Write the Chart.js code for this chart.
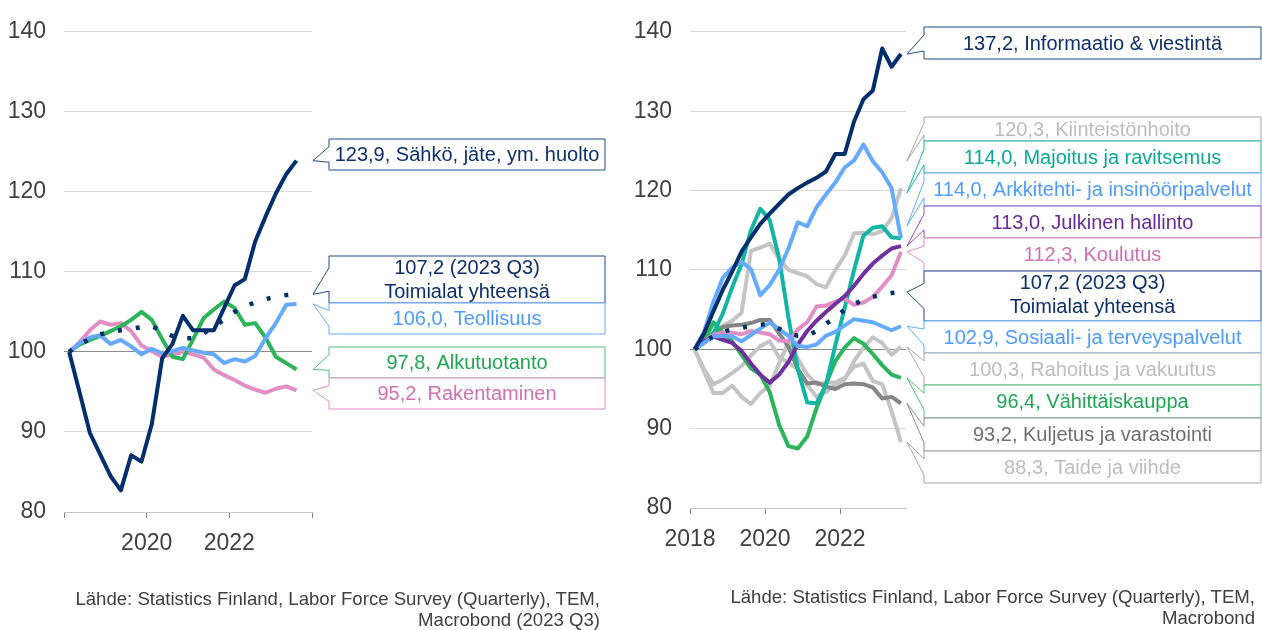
<!DOCTYPE html>
<html>
<head>
<meta charset="utf-8">
<script src="https://cdn.jsdelivr.net/npm/chart.js@4/dist/chart.umd.min.js"></script>
<style>
  html, body { margin: 0; padding: 0; background: #fff; }
  body { width: 1262px; height: 630px; position: relative; overflow: hidden; font-family: "Liberation Sans", Arial, sans-serif; }
  canvas { position: absolute; left: 0; top: 0; }
  .src { position: absolute; text-align: right; font-size: 18.6px; line-height: 21px; color: #404040; white-space: nowrap; }
</style>
</head>
<body>
<canvas id="vasen" width="1262" height="630"></canvas>
<canvas id="oikea" width="1262" height="630"></canvas>
<div class="src" style="right:662px; top:588px">Lähde: Statistics Finland, Labor Force Survey (Quarterly), TEM,<br>Macrobond (2023 Q3)</div>
<div class="src" style="right:7px; top:586px">Lähde: Statistics Finland, Labor Force Survey (Quarterly), TEM,<br>Macrobond</div>
<script>
// ==================== Data ====================
const quarters = [
  '2018Q1','2018Q2','2018Q3','2018Q4','2019Q1','2019Q2','2019Q3','2019Q4',
  '2020Q1','2020Q2','2020Q3','2020Q4','2021Q1','2021Q2','2021Q3','2021Q4',
  '2022Q1','2022Q2','2022Q3','2022Q4','2023Q1','2023Q2','2023Q3'
];
const yTicks = [80, 90, 100, 110, 120, 130, 140];
const xYears = [2018, 2020, 2022, 2024];

// vasen paneeli
const sahko        = [100, 95.0, 89.9, 87.2, 84.5, 82.7, 87.1, 86.3, 91.0, 99.2, 101.0, 104.5, 102.7, 102.7, 102.7, 105.5, 108.3, 109.1, 113.8, 116.9, 119.8, 122.2, 123.9];
const yhteensa     = [100, 101.0, 101.6, 102.2, 102.5, 102.7, 102.9, 103.1, 103.2, 102.6, 102.0, 101.7, 101.7, 102.3, 103.2, 104.0, 105.0, 105.7, 106.2, 106.6, 106.9, 107.1, 107.2];
const teollisuus   = [100, 101.1, 101.8, 102.1, 101.0, 101.5, 100.7, 99.7, 100.4, 99.8, 100.1, 100.5, 100.2, 99.9, 99.7, 98.6, 99.1, 98.8, 99.5, 101.7, 103.6, 105.9, 106.0];
const alkutuotanto = [100, 100.9, 101.5, 102.0, 102.6, 103.2, 104.0, 105.0, 104.0, 101.6, 99.4, 99.1, 101.6, 104.2, 105.3, 106.3, 105.5, 103.4, 103.6, 101.8, 99.4, 98.6, 97.8];
const rakentaminen = [100, 101.2, 102.7, 103.8, 103.4, 103.6, 102.6, 100.8, 100.1, 99.4, 99.7, 100.0, 99.7, 99.3, 97.8, 97.1, 96.5, 95.8, 95.3, 94.9, 95.4, 95.7, 95.2];

// oikea paneeli
const informaatio  = [100, 102.0, 104.8, 107.5, 109.8, 112.3, 114.1, 115.8, 117.1, 118.3, 119.5, 120.3, 121.0, 121.6, 122.4, 124.6, 124.6, 128.7, 131.5, 132.6, 137.9, 135.6, 137.2];
const kiinteisto   = [100, 101.0, 102.0, 103.0, 103.6, 104.6, 112.4, 112.8, 113.3, 111.4, 110.0, 109.6, 109.2, 108.2, 107.8, 110.0, 111.8, 114.6, 114.7, 114.5, 114.9, 116.5, 120.3];
const majoitus     = [100, 100.8, 102.0, 104.5, 107.8, 110.7, 115.0, 117.7, 116.3, 111.5, 104.0, 97.5, 93.3, 93.2, 95.5, 100.5, 105.2, 110.0, 114.3, 115.3, 115.5, 114.1, 114.0];
const arkkitehti   = [100, 102.2, 106.0, 109.0, 110.3, 111.0, 110.1, 106.8, 108.1, 110.0, 112.7, 116.0, 115.5, 117.9, 119.5, 121.0, 122.9, 123.8, 125.8, 123.7, 122.3, 120.3, 114.0];
const julkinen     = [100, 101.0, 101.6, 101.2, 100.8, 99.8, 98.2, 96.8, 95.8, 96.8, 98.4, 100.6, 102.3, 103.6, 104.7, 105.7, 106.7, 108.0, 109.5, 110.8, 111.8, 112.7, 113.0];
const koulutus     = [100, 101.0, 101.8, 102.1, 102.1, 101.9, 102.3, 102.1, 101.9, 101.1, 101.0, 102.5, 103.4, 105.4, 105.5, 106.0, 106.4, 105.6, 105.9, 106.6, 107.9, 109.3, 112.3];
const sosiaali     = [100, 100.8, 101.6, 101.7, 101.6, 101.0, 101.8, 102.6, 103.4, 102.5, 101.7, 100.4, 100.3, 100.6, 101.7, 102.2, 103.0, 103.8, 103.6, 103.4, 102.9, 102.4, 102.9];
const rahoitus     = [100, 97.5, 95.6, 96.2, 97.0, 97.9, 99.2, 100.4, 101.0, 99.0, 98.3, 97.5, 95.5, 94.0, 94.6, 95.6, 96.2, 98.5, 100.2, 101.5, 100.8, 99.3, 100.3];
const vahittais    = [100, 101.0, 103.4, 102.0, 101.0, 99.3, 97.6, 96.8, 94.6, 90.5, 87.8, 87.5, 89.0, 92.6, 95.6, 98.5, 100.2, 101.4, 100.7, 99.4, 98.0, 96.8, 96.4];
const kuljetus     = [100, 101.2, 102.0, 102.8, 103.0, 103.1, 103.3, 103.7, 103.7, 102.0, 100.3, 97.5, 95.7, 95.8, 95.3, 95.0, 95.6, 95.7, 95.6, 95.2, 93.8, 94.0, 93.2];
const taide        = [100, 97.2, 94.5, 94.5, 95.4, 94.0, 93.1, 94.5, 95.4, 98.2, 100.9, 98.8, 96.8, 95.6, 95.8, 95.8, 96.4, 97.8, 98.2, 96.0, 95.6, 92.2, 88.3];

// tekstit
const leftLabels = [
  '123,9, Sähkö, jäte, ym. huolto',
  ['107,2 (2023 Q3)', 'Toimialat yhteensä'],
  '106,0, Teollisuus',
  '97,8, Alkutuotanto',
  '95,2, Rakentaminen'
];
const rightLabels = [
  '137,2, Informaatio & viestintä',
  '120,3, Kiinteistönhoito',
  '114,0, Majoitus ja ravitsemus',
  '114,0, Arkkitehti- ja insinööripalvelut',
  '113,0, Julkinen hallinto',
  '112,3, Koulutus',
  ['107,2 (2023 Q3)', 'Toimialat yhteensä'],
  '102,9, Sosiaali- ja terveyspalvelut',
  '100,3, Rahoitus ja vakuutus',
  '96,4, Vähittäiskauppa',
  '93,2, Kuljetus ja varastointi',
  '88,3, Taide ja viihde'
];

// ==================== Värit ====================
const NAVY = '#002f6c', LBLUE = '#66aaff', GREEN = '#2bb45a', PINK = '#e08ec4',
      TEAL = '#12b5a3', PURPLE = '#7030a0', LGRAY = '#c4c4c4', DGRAY = '#858585';
const FONT = '"Liberation Sans", Arial, sans-serif';

const toX = q => +q.slice(0, 4) + (+q[5] - 0.5) / 4;
const pts = arr => arr.map((v, i) => ({ x: toX(quarters[i]), y: v }));

function line(data, color, extra) {
  return Object.assign({
    data: pts(data), borderColor: color, borderWidth: 4, pointRadius: 0,
    tension: 0, fill: false, borderJoinStyle: 'round', borderCapStyle: 'butt'
  }, extra || {});
}
function dotted(data) {
  return line(data, NAVY, { borderDash: [4, 14], borderWidth: 4.5 });
}

// ==================== Callout-laatikot ====================
const calloutPlugin = {
  id: 'callouts',
  afterDatasetsDraw(chart, args, opts) {
    if (!opts.items) return;
    const { ctx, chartArea, scales } = chart;
    const tipX = chartArea.right + 1;
    opts.items.forEach(it => {
      const top = it.top, h = it.h, bottom = top + h;
      let tipY = scales.y.getPixelForValue(it.value);
      tipY = Math.max(top - 20, Math.min(bottom + 20, tipY));
      const n1 = top + h * 0.25, n2 = top + h * 0.75;
      ctx.save();
      ctx.beginPath();
      ctx.moveTo(opts.x0, top);
      ctx.lineTo(opts.x1, top);
      ctx.lineTo(opts.x1, bottom);
      ctx.lineTo(opts.x0, bottom);
      ctx.lineTo(opts.x0, n2);
      ctx.lineTo(tipX, tipY);
      ctx.lineTo(opts.x0, n1);
      ctx.closePath();
      ctx.fillStyle = '#fff';
      ctx.fill();
      ctx.strokeStyle = it.border;
      ctx.lineWidth = 1;
      ctx.stroke();
      ctx.fillStyle = it.text;
      ctx.font = '20px ' + FONT;
      ctx.textAlign = 'center';
      ctx.textBaseline = 'middle';
      const cx = (opts.x0 + opts.x1) / 2;
      if (Array.isArray(it.label)) {
        ctx.fillText(it.label[0], cx, top + 12);
        ctx.fillText(it.label[1], cx, top + 36);
      } else {
        ctx.fillText(it.label, cx, top + h / 2 + 1);
      }
      ctx.restore();
    });
  }
};

// ==================== Yhteiset asetukset ====================
function options(cfg) {
  return {
    responsive: false,
    animation: false,
    events: [],
    layout: { padding: cfg.padding },
    plugins: { legend: { display: false }, tooltip: { enabled: false }, callouts: cfg.callouts },
    scales: {
      x: {
        type: 'linear', min: 2018, max: cfg.xMax,
        afterFit: s => { s.height = 40; },
        afterBuildTicks: s => { s.ticks = xYears.filter(v => v <= cfg.xMax).map(v => ({ value: v })); },
        grid: { drawOnChartArea: false, drawTicks: true, tickLength: 6, color: '#808080' },
        border: { display: true, color: '#c8c8c8', width: 1 },
        ticks: {
          color: '#404040', padding: 12, maxRotation: 0,
          font: { size: 23, family: FONT },
          callback: v => cfg.hideYears.includes(v) ? '' : String(v)
        }
      },
      y: {
        min: 80, max: 140,
        afterFit: s => { s.width = cfg.yWidth; },
        afterBuildTicks: s => { s.ticks = yTicks.map(v => ({ value: v })); },
        grid: { drawTicks: false, color: c => c.tick && c.tick.value === 100 ? '#8c8c8c' : '#d9d9d9' },
        border: { display: false },
        ticks: { color: '#404040', padding: 18, font: { size: 23, family: FONT } }
      }
    }
  };
}

// ==================== Vasen kaavio ====================
new Chart(document.getElementById('vasen'), {
  type: 'line',
  data: {
    datasets: [
      dotted(yhteensa),
      line(sahko, NAVY),
      line(teollisuus, LBLUE),
      line(alkutuotanto, GREEN),
      line(rakentaminen, PINK)
    ]
  },
  options: options({
    padding: { left: 0, top: 23, right: 950, bottom: 78 },
    yWidth: 64, xMax: 2024, hideYears: [2018, 2024],
    callouts: {
      x0: 329, x1: 605,
      items: [
        { label: leftLabels[0], value: sahko[22], top: 139, h: 31, border: '#1f4a8a', text: '#0d2f6b' },
        { label: leftLabels[1], value: yhteensa[22], top: 256, h: 47, border: '#1f4a8a', text: '#0d2f6b' },
        { label: leftLabels[2], value: teollisuus[22], top: 303, h: 31, border: LBLUE, text: '#4d9bff' },
        { label: leftLabels[3], value: alkutuotanto[22], top: 347, h: 31, border: '#4cbf74', text: '#1fa650' },
        { label: leftLabels[4], value: rakentaminen[22], top: 378, h: 31, border: PINK, text: '#d070b0' }
      ]
    }
  }),
  plugins: [calloutPlugin]
});

// ==================== Oikea kaavio ====================
new Chart(document.getElementById('oikea'), {
  type: 'line',
  data: {
    datasets: [
      dotted(yhteensa),
      line(informaatio, NAVY),
      line(arkkitehti, LBLUE),
      line(sosiaali, LBLUE),
      line(julkinen, PURPLE),
      line(koulutus, PINK),
      line(majoitus, TEAL),
      line(vahittais, GREEN),
      line(kuljetus, DGRAY),
      line(kiinteisto, LGRAY),
      line(rahoitus, LGRAY),
      line(taide, LGRAY)
    ]
  },
  options: options({
    padding: { left: 630, top: 20, right: 356, bottom: 82 },
    yWidth: 60, xMax: 2023.76, hideYears: [],
    callouts: {
      x0: 924, x1: 1261,
      items: [
        { label: rightLabels[0], value: informaatio[22], top: 27, h: 32, border: '#1f4a8a', text: '#0d2f6b' },
        { label: rightLabels[1], value: kiinteisto[22], top: 117, h: 24, border: '#a6a6a6', text: '#bdbdbd' },
        { label: rightLabels[2], value: majoitus[22], top: 141, h: 32, border: TEAL, text: '#0aa898' },
        { label: rightLabels[3], value: arkkitehti[22], top: 173, h: 33, border: LBLUE, text: '#4d9bff' },
        { label: rightLabels[4], value: julkinen[22], top: 206, h: 32, border: '#8a4fb8', text: '#6a2a98' },
        { label: rightLabels[5], value: koulutus[22], top: 238, h: 33, border: PINK, text: '#d070b0' },
        { label: rightLabels[6], value: yhteensa[22], top: 271, h: 50, border: '#1f4a8a', text: '#0d2f6b' },
        { label: rightLabels[7], value: sosiaali[22], top: 321, h: 32, border: LBLUE, text: '#4d9bff' },
        { label: rightLabels[8], value: rahoitus[22], top: 353, h: 32, border: '#a6a6a6', text: '#bdbdbd' },
        { label: rightLabels[9], value: vahittais[22], top: 385, h: 33, border: '#4cbf74', text: '#1fa650' },
        { label: rightLabels[10], value: kuljetus[22], top: 418, h: 33, border: '#8c8c8c', text: '#6f6f6f' },
        { label: rightLabels[11], value: taide[22], top: 451, h: 32, border: '#a6a6a6', text: '#bdbdbd' }
      ]
    }
  }),
  plugins: [calloutPlugin]
});
</script>
</body>
</html>
